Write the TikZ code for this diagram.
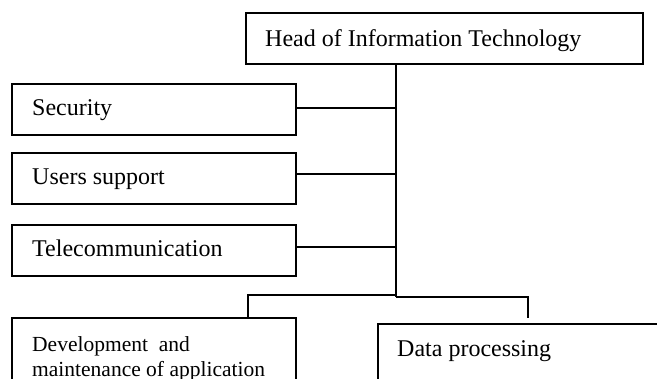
\documentclass[tikz,border=0pt]{standalone}
\usepackage{fontspec}
\setmainfont{Liberation Serif}
\begin{document}
\begin{tikzpicture}[x=1pt,y=-1pt,
  box/.style={draw,line width=1.6pt,rectangle,inner sep=0pt,anchor=north west},
  conn/.style={line width=1.6pt},
  txt/.style={anchor=base west,inner sep=0pt,font=\fontsize{24}{28}\selectfont},
  smalltxt/.style={anchor=base west,inner sep=0pt,font=\fontsize{21.5}{25}\selectfont,align=left}]
\useasboundingbox (0,0) rectangle (657,379);
\clip (0,0) rectangle (657,379);
\fill[white] (0,0) rectangle (657,379);
% boxes
\node[box,minimum width=397pt,minimum height=51pt] (head) at (245,12) {};
\node[box,minimum width=284pt,minimum height=51pt] (sec) at (11,83) {};
\node[box,minimum width=284pt,minimum height=51pt] (users) at (11,152) {};
\node[box,minimum width=284pt,minimum height=51pt] (tele) at (11,224) {};
\node[box,minimum width=284pt,minimum height=90pt] (dev) at (11,317) {};
\node[box,minimum width=300pt,minimum height=90pt] (data) at (377,323) {};
% texts
\node[txt] (headt) at (265,47) {Head of Information Technology};
\node[txt] (sect) at (32,116) {Security};
\node[txt] (userst) at (32,185) {Users support};
\node[txt] (telet) at (32,257) {Telecommunication};
\node[smalltxt] (devt1) at (32,352) {Development\ \ and};
\node[smalltxt] (devt2) at (32,377) {maintenance of application};
\node[txt] (datat) at (397,357) {Data processing};
% connector points
\coordinate (tr) at (396,63);
\coordinate (tb) at (396,297);
\coordinate (lb) at (248,295);
\coordinate (rb) at (528,297);
\coordinate (rbe) at (528,318);
% trunk
\draw[conn] (head.south -| tr) -- (tb);
% side branches
\draw[conn] ([yshift=1.5pt]sec.east) -- ([yshift=1.5pt]sec.east -| tr);
\draw[conn] ([yshift=4.5pt]users.east) -- ([yshift=4.5pt]users.east -| tr);
\draw[conn] ([yshift=3.5pt]tele.east) -- ([yshift=3.5pt]tele.east -| tr);
% bottom branches
\draw[conn] (lb -| tr) -- (lb) -- (lb |- dev.north);
\draw[conn] (tb) -- (rb) -- (rbe);
\end{tikzpicture}
\end{document}
